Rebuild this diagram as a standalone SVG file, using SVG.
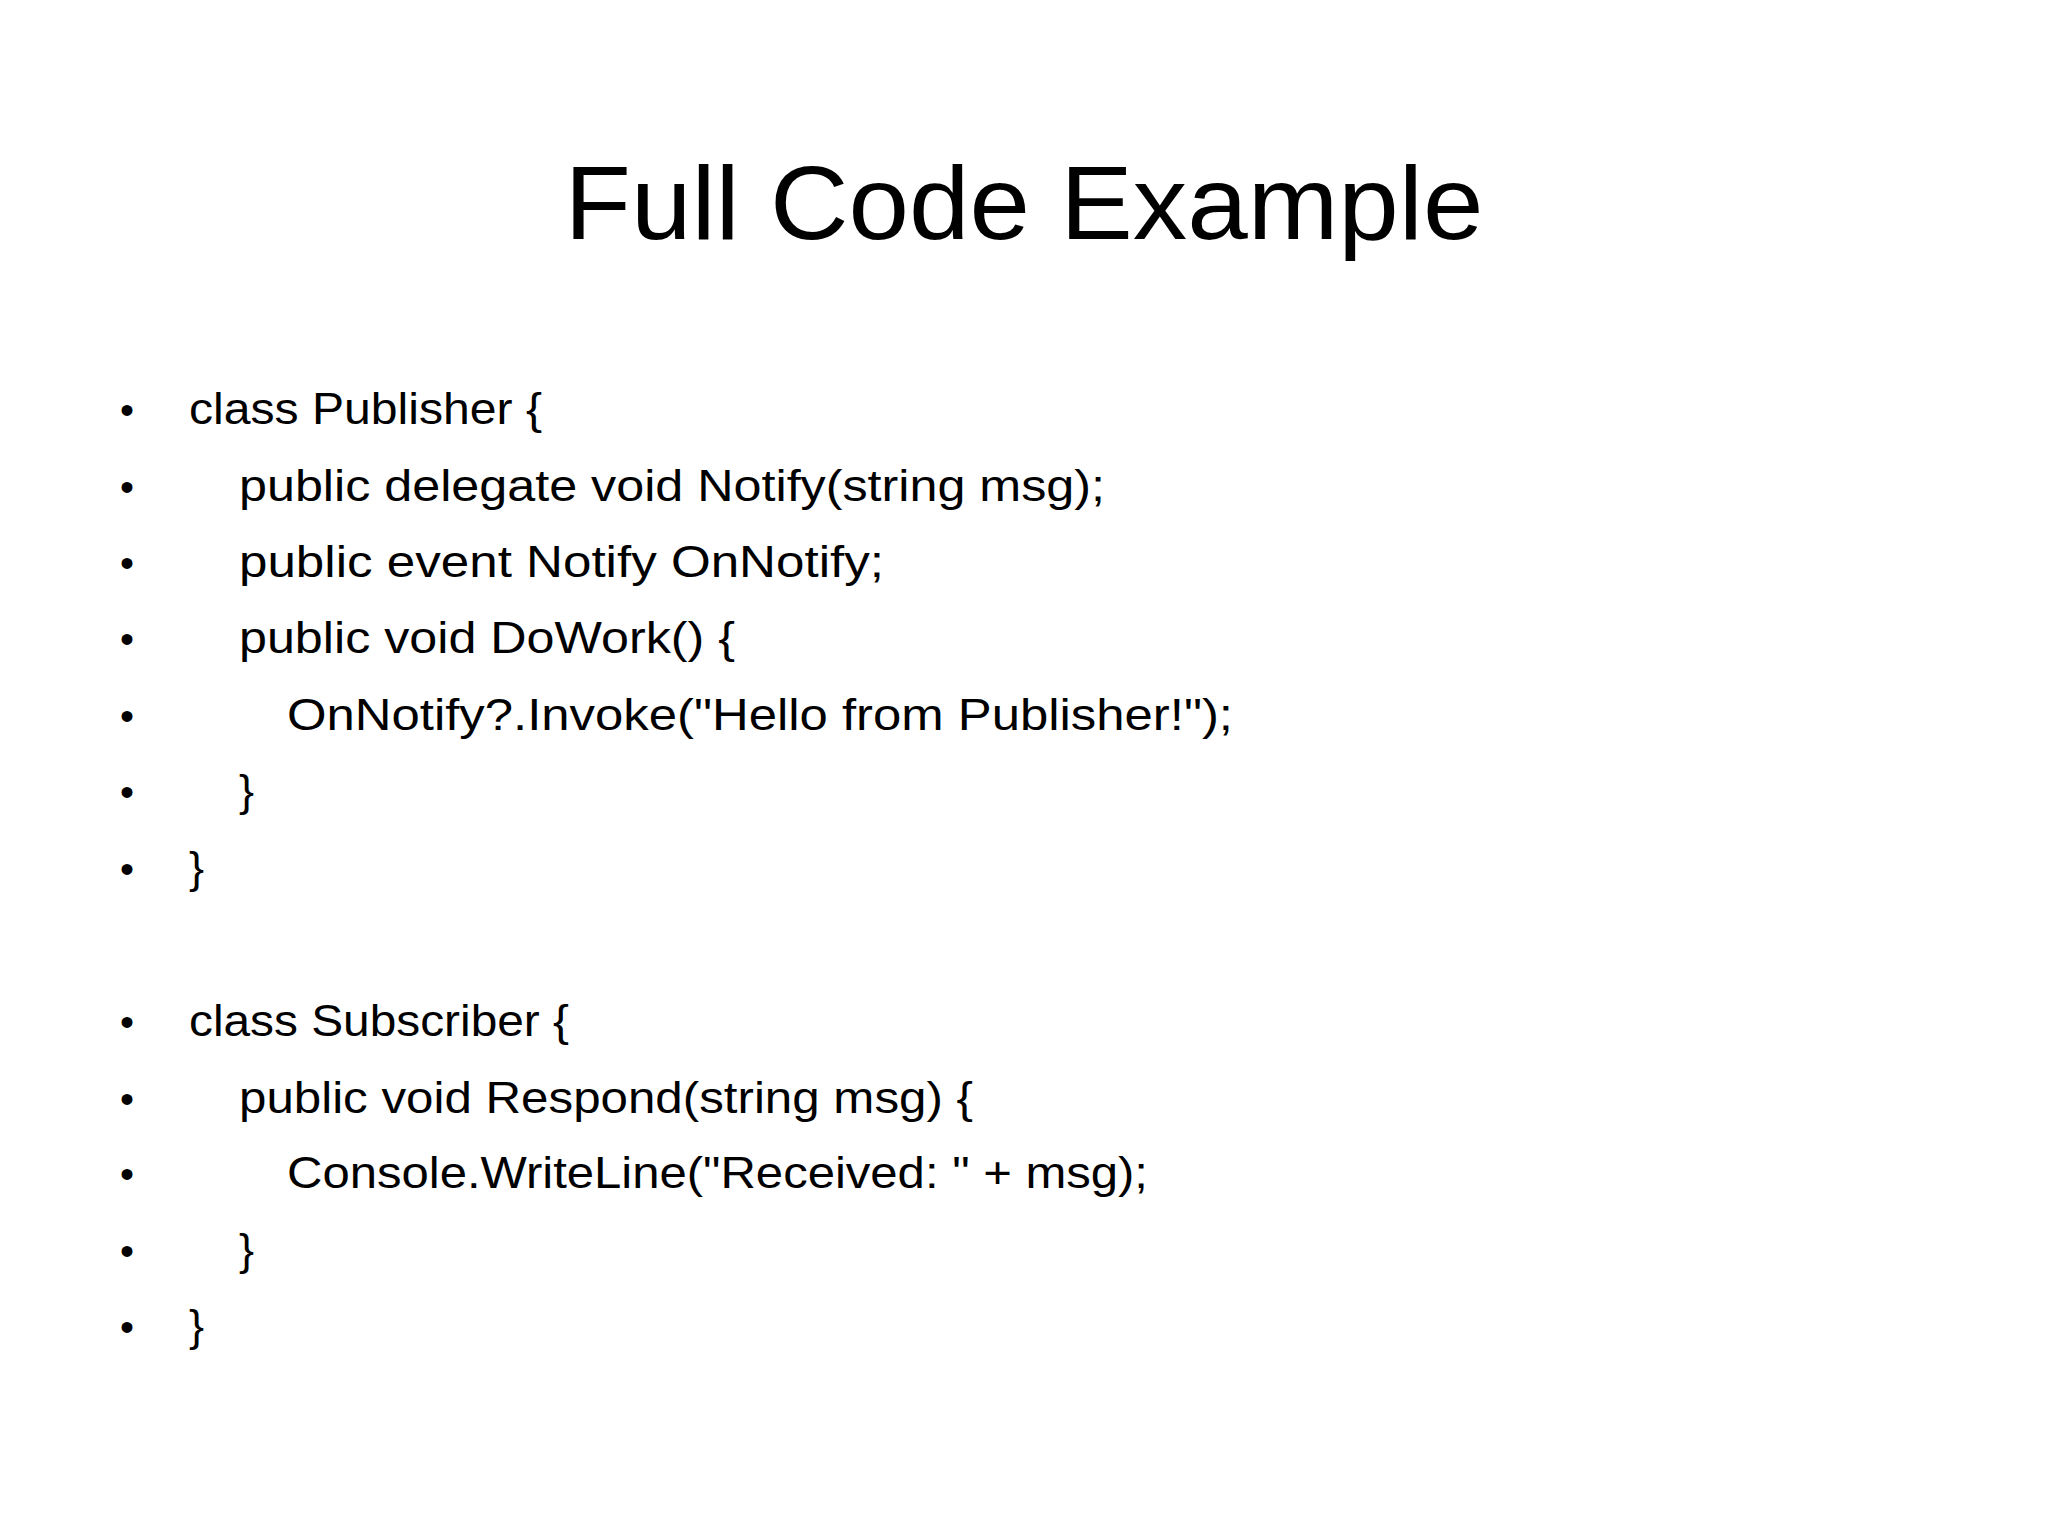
<svg xmlns="http://www.w3.org/2000/svg" width="2048" height="1536" viewBox="0 0 2048 1536">
<style>
text{font-family:"Liberation Sans","Open Sans",sans-serif;fill:#000}
.t{font-size:104px}
.l{font-size:45px}
.b{font-size:40px}
</style>
<rect width="2048" height="1536" fill="#fff"/>
<g id="title"><text class="t" x="1024" y="239" text-anchor="middle" textLength="919" lengthAdjust="spacingAndGlyphs">Full Code Example</text></g>
<g id="bullets" class="b">
<text class="b" x="120" y="424">•</text><text class="b" x="120" y="501">•</text><text class="b" x="120" y="577">•</text><text class="b" x="120" y="653">•</text><text class="b" x="120" y="730">•</text><text class="b" x="120" y="806">•</text><text class="b" x="120" y="883">•</text><text class="b" x="120" y="1036">•</text><text class="b" x="120" y="1113">•</text><text class="b" x="120" y="1188">•</text><text class="b" x="120" y="1265">•</text><text class="b" x="120" y="1341">•</text>
</g>
<g id="code">
<text class="l" x="189" y="424" textLength="353" lengthAdjust="spacingAndGlyphs">class Publisher {</text>
<text class="l" x="239" y="501" textLength="866" lengthAdjust="spacingAndGlyphs">public delegate void Notify(string msg);</text>
<text class="l" x="239" y="577" textLength="645" lengthAdjust="spacingAndGlyphs">public event Notify OnNotify;</text>
<text class="l" x="239" y="653" textLength="496" lengthAdjust="spacingAndGlyphs">public void DoWork() {</text>
<text class="l" x="287" y="730" textLength="946" lengthAdjust="spacingAndGlyphs">OnNotify?.Invoke("Hello from Publisher!");</text>
<text class="l" x="239" y="806">}</text>
<text class="l" x="189" y="883">}</text>
<text class="l" x="189" y="1036" textLength="380" lengthAdjust="spacingAndGlyphs">class Subscriber {</text>
<text class="l" x="239" y="1113" textLength="734" lengthAdjust="spacingAndGlyphs">public void Respond(string msg) {</text>
<text class="l" x="287" y="1188" textLength="861" lengthAdjust="spacingAndGlyphs">Console.WriteLine("Received: " + msg);</text>
<text class="l" x="239" y="1265">}</text>
<text class="l" x="189" y="1341">}</text>
</g>
</svg>
